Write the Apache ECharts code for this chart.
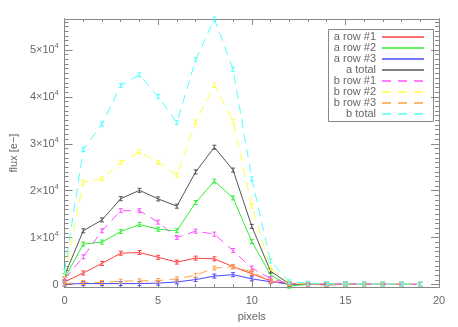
<!DOCTYPE html>
<html><head><meta charset="utf-8">
<script src="https://cdn.jsdelivr.net/npm/echarts@6/dist/echarts.min.js"></script>
<style>html,body{margin:0;padding:0;background:#fff}#c{width:458px;height:327px}</style>
</head><body><div id="c"></div>
<script>
const pixels = [0,1,2,3,4,5,6,7,8,9,10,11,12,13,14,15,16,17,18,19];
const aRow1 = [600,2460,4500,6670,6820,5800,4780,5620,5470,3800,2300,780,100,80,60,50,40,30,30,20];
const aRow2 = [1300,8630,9050,11300,12780,11780,11450,17470,22040,18460,9150,2100,-340,60,50,40,40,30,30,20];
const aRow3 = [100,200,200,200,200,300,550,1050,1800,2100,1200,600,100,60,50,40,30,30,20,20];
const aTotal = [1900,11450,13770,18300,20080,18250,16700,24000,29260,24400,12400,2850,150,100,-100,60,40,40,30,30];
const bRow1 = [1200,5900,11450,15730,15730,13300,10040,11370,10740,7240,3510,1270,200,100,80,60,50,40,30,30];
const bRow2 = [2000,21830,22530,26040,28290,26040,23300,34670,42460,34800,16700,3500,300,150,100,80,60,50,40,30];
const bRow3 = [200,420,420,710,780,840,1200,1980,3500,3800,2700,700,150,100,80,60,50,40,30,30];
const bTotal = [2800,28800,34200,42400,44700,40100,34500,47900,56600,45900,22530,5000,570,300,200,150,120,100,80,60];
const seriesNames = ['a row #1','a row #2','a row #3','a total','b row #1','b row #2','b row #3','b total'];
const yMajorTicks = [0,10000,20000,30000,40000,50000];

const colors = ['#ff4040','#30ee30','#4848ff','#555555','#ff50ff','#ffff40','#ffa040','#50ffff'];
const dashed = [false,false,false,false,true,true,true,true];
const allData = [aRow1,aRow2,aRow3,aTotal,bRow1,bRow2,bRow3,bTotal];
const YMIN = -550, YMAX = 56600;
const axisCol = '#888';
const txtCol = '#666';
const FONT = 'Liberation Sans';

const yMinor = [];
for (let v = 1000; v <= 56000; v += 1000) if (v % 10000 !== 0) yMinor.push(v);

const errSym = 'path://M0,0 L4,0 M2,0 L2,5 M0,5 L4,5';

const series = allData.map((d, i) => ({
  name: seriesNames[i],
  type: 'line',
  data: pixels.map((x, k) => [x, d[k]]),
  symbol: errSym,
  symbolSize: [4, 4],
  itemStyle: { color: 'none', borderColor: colors[i], borderWidth: 1 },
  lineStyle: { color: colors[i], width: 1, type: dashed[i] ? [9, 6] : 'solid' },
  animation: false,
  z: 2 + i
}));

function yAx(pos, ticks, len, labels) {
  return {
    type: 'value', position: pos, min: YMIN, max: YMAX,
    axisLine: { show: true, onZero: false, lineStyle: { color: axisCol, width: 1 } },
    axisTick: { show: true, inside: true, length: len, customValues: ticks, lineStyle: { color: axisCol } },
    axisLabel: labels ? {
      show: true, customValues: yMajorTicks, color: txtCol, fontFamily: FONT, fontSize: 11, margin: 6,
      formatter: v => v === 0 ? '{a|0}' : '{a|' + (v / 10000) + '×10}{b|4}',
      rich: { a: { color: txtCol, fontFamily: FONT, fontSize: 11 }, b: { color: txtCol, fontFamily: FONT, fontSize: 7, verticalAlign: 'top', padding: [0,0,7,0] } }
    } : { show: false },
    splitLine: { show: false },
    name: labels ? 'flux [e\u2212]' : '',
    nameLocation: 'middle', nameGap: 36, nameRotate: 90,
    nameTextStyle: { color: txtCol, fontFamily: FONT, fontSize: 11 }
  };
}
function xAx(pos, labels) {
  return {
    type: 'value', position: pos, min: 0, max: 20, interval: 5,
    axisLine: { show: true, onZero: false, lineStyle: { color: axisCol } },
    axisTick: { show: true, inside: true, length: 6, lineStyle: { color: axisCol } },
    minorTick: { show: true, splitNumber: 5, length: 3, lineStyle: { color: axisCol } },
    axisLabel: labels ? { show: true, color: txtCol, fontFamily: FONT, fontSize: 11, margin: 8 } : { show: false },
    splitLine: { show: false },
    name: labels ? 'pixels' : '',
    nameLocation: 'middle', nameGap: 22,
    nameTextStyle: { color: txtCol, fontFamily: FONT, fontSize: 11 }
  };
}

// legend as graphic
const LX = 328.5, LY = 29.5, LW = 105, LH = 92;
const legendEls = [{ type: 'rect', shape: { x: LX, y: LY, width: LW, height: LH }, style: { fill: '#fff', stroke: '#888', lineWidth: 1 } }];
seriesNames.forEach((n, i) => {
  const y = 37 + 11 * i;
  legendEls.push({ type: 'text', style: { text: n, x: 376, y: y, align: 'right', verticalAlign: 'middle', fill: txtCol, fontSize: 11, fontFamily: FONT } });
  legendEls.push({ type: 'line', shape: { x1: 382, y1: y, x2: 424, y2: y }, style: { stroke: colors[i], lineWidth: 1.4, lineDash: dashed[i] ? [9, 7] : null } });
});

const chart = echarts.init(document.getElementById('c'), null, { renderer: 'canvas' });
chart.setOption({
  animation: false,
  backgroundColor: '#fff',
  grid: { left: 57, right: 19, top: 19, bottom: 37, containLabel: false },
  xAxis: [xAx('bottom', true), xAx('top', false)],
  yAxis: [yAx('left', yMajorTicks, 8, true), yAx('left', yMinor, 4, false), yAx('right', yMajorTicks, 8, false), yAx('right', yMinor, 4, false)],
  series: series,
  graphic: { elements: [{ type: 'group', z: 100, children: legendEls }] }
});
</script></body></html>
